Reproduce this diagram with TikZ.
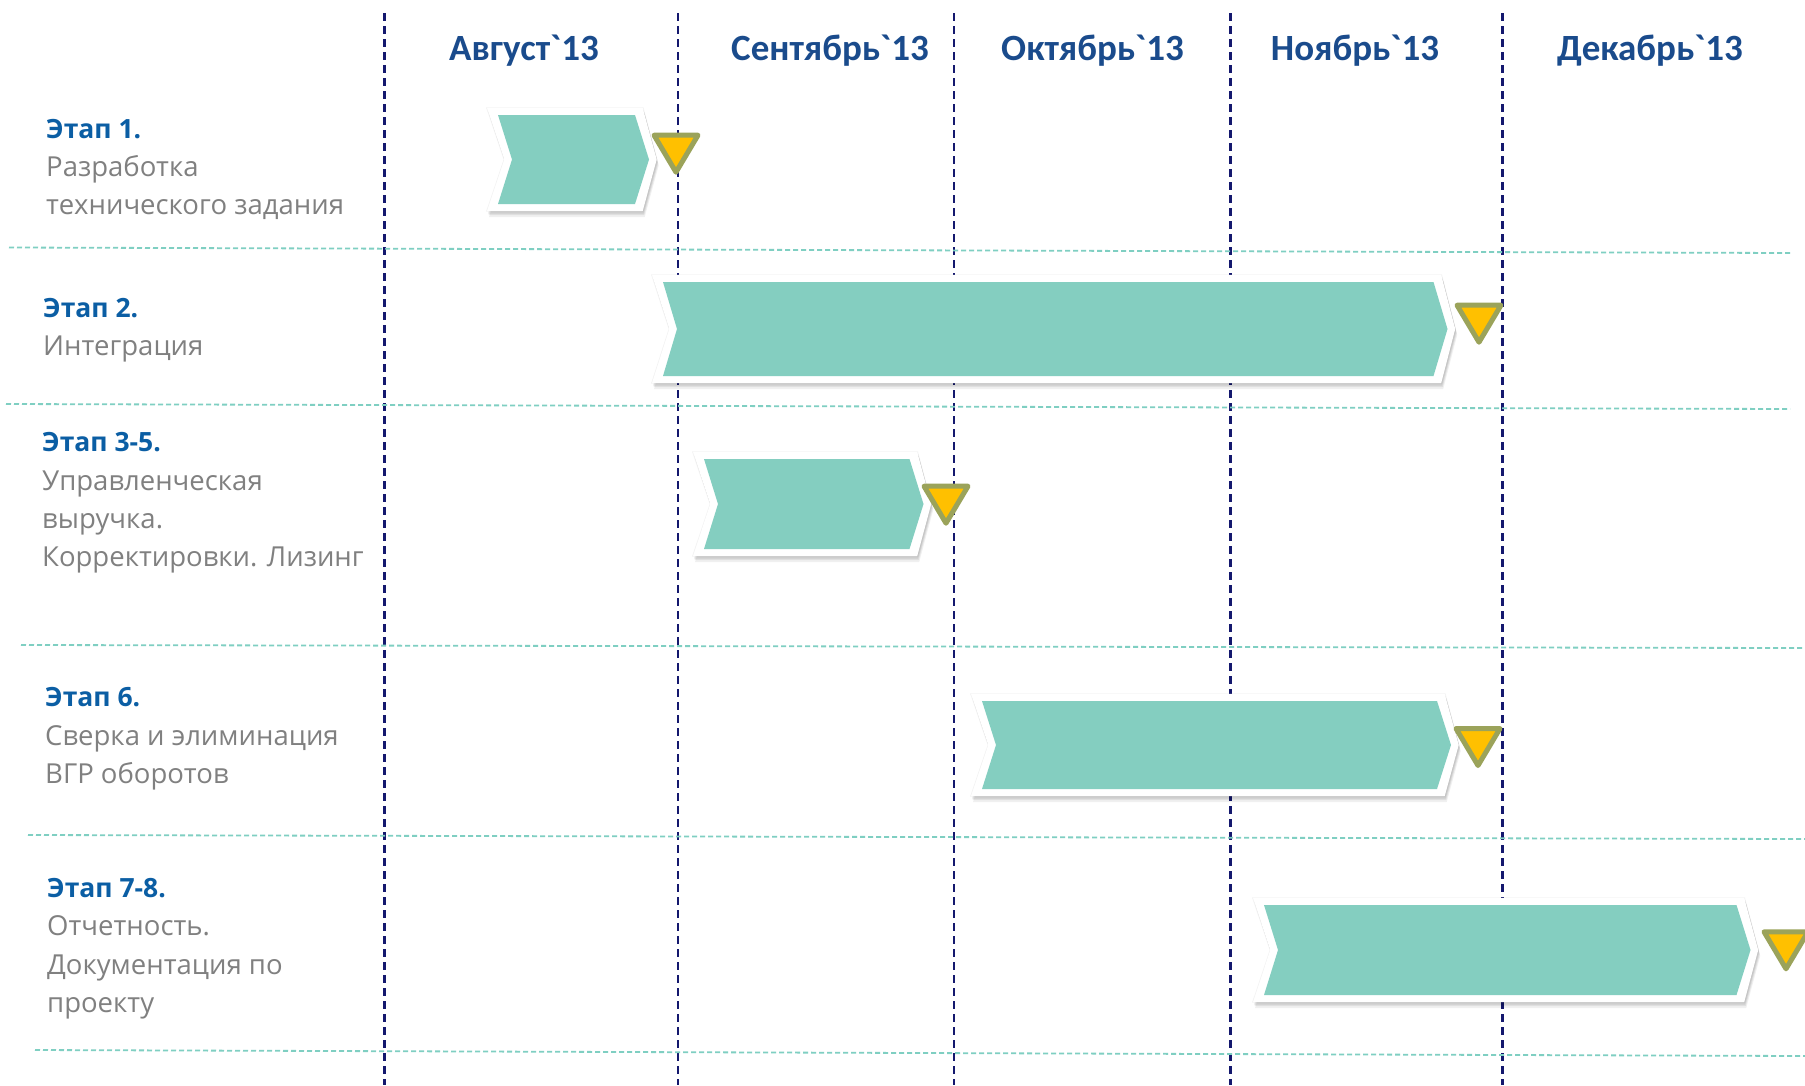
\documentclass[tikz,border=0pt]{standalone}
\usepackage{fontspec}
\setmainfont{Open Sans}
\newfontfamily\calib{Carlito}
\definecolor{teal1}{HTML}{84CEC0}
\definecolor{gold1}{HTML}{FFC000}
\definecolor{olive1}{HTML}{9BA35A}
\definecolor{navy1}{HTML}{14186E}
\definecolor{grid1}{HTML}{7FCFC2}
\definecolor{mon1}{HTML}{1A4B8C}
\definecolor{title1}{HTML}{0B5EA4}
\definecolor{body1}{HTML}{808080}
\newcommand\gr{\symbol{96}}
% chevron path: x0, x1, y0, y1, expansion
\newcommand\chevpath[5]{({#1-#5},{#3-#5*0.64}) -- ({#2+#5*0.7},{#3-#5*0.64}) -- ({#2+14+#5*0.7},{(#3+#4)/2}) -- ({#2+#5*0.7},{#4+#5*0.64}) -- ({#1-#5},{#4+#5*0.64}) -- ({#1+14-#5*0.7},{(#3+#4)/2}) -- cycle}
\newcommand\chev[4]{%
  \fill[black,opacity=0.06,shift={(2,6)}] \chevpath{#1}{#2}{#3}{#4}{11};
  \fill[black,opacity=0.07,shift={(1.5,4)}] \chevpath{#1}{#2}{#3}{#4}{11};
  \fill[black,opacity=0.08,shift={(1,2.5)}] \chevpath{#1}{#2}{#3}{#4}{11};
  \fill[black,opacity=0.05,shift={(0,0)}] \chevpath{#1}{#2}{#3}{#4}{12};
  \fill[white] \chevpath{#1}{#2}{#3}{#4}{11};
  \fill[teal1] \chevpath{#1}{#2}{#3}{#4}{0};}
\newcommand\mile[2]{\filldraw[milestone] ({#1-22},{#2+2.5}) -- ({#1+22},{#2+2.5}) -- (#1,{#2+39.5}) -- cycle;}
\tikzset{
  vline/.style={navy1, line width=2.4pt, dash pattern=on 8pt off 5pt},
  hline/.style={grid1, line width=1.8pt, dash pattern=on 5pt off 3pt},
  month/.style={font=\calib\fontsize{37}{40}\selectfont\bfseries, text=mon1, anchor=base, inner sep=0pt},
  stitle/.style={font=\fontsize{26.5}{32}\selectfont\bfseries, text=title1, anchor=base west, inner sep=0pt},
  sbody/.style={font=\fontsize{27.5}{32}\selectfont, text=body1, anchor=base west, inner sep=0pt},
  milestone/.style={fill=gold1, draw=olive1, line width=5pt, line join=round},
}
\begin{document}
\begin{tikzpicture}[x=1pt,y=-1pt]
\fill[white] (0,0) rectangle (1805,1085);
\useasboundingbox (0,0) rectangle (1805,1085);
% grid lines
\foreach \x in {384.5,678,954,1230.5,1502.5} \draw[vline] (\x,13) -- (\x,1085);
\draw[hline] (9,247.5) -- (1790,253);
\draw[hline] (6,404) -- (1790,409);
\draw[hline] (21,645) -- (1805,648);
\draw[hline] (28,835) -- (1805,839);
\draw[hline] (35,1050) -- (1805,1056);
% months
\node[month] (m1) at (524,60) {Август\gr13};
\node[month] (m2) at (830,60) {Сентябрь\gr13};
\node[month] (m3) at (1092.5,60) {Октябрь\gr13};
\node[month] (m4) at (1355,60) {Ноябрь\gr13};
\node[month] (m5) at (1650,60) {Декабрь\gr13};
% stages
\node[stitle] (s1t) at (46,138) {Этап 1.};
\node[sbody] (s1a) at (46,176) {Разработка};
\node[sbody] (s1b) at (46,214) {технического задания};
\node[stitle] (s2t) at (43,317) {Этап 2.};
\node[sbody] (s2a) at (43,355) {Интеграция};
\node[stitle] (s3t) at (42,451.7) {Этап 3-5.};
\node[sbody] (s3a) at (42,490.5) {Управленческая};
\node[sbody] (s3b) at (42,528) {выручка.};
\node[sbody] (s3c) at (42,566) {Корректировки. Лизинг};
\node[stitle] (s4t) at (45,706.5) {Этап 6.};
\node[sbody] (s4a) at (45,745) {Сверка и элиминация};
\node[sbody] (s4b) at (45,783.5) {ВГР оборотов};
\node[stitle] (s5t) at (47,897.5) {Этап 7-8.};
\node[sbody] (s5a) at (47,935.5) {Отчетность.};
\node[sbody] (s5b) at (47,974) {Документация по};
\node[sbody] (s5c) at (47,1012) {проекту};
% bars
\chev{498}{635}{115}{204}
\chev{663}{1433.5}{282}{376}
\chev{704}{909.5}{459}{549}
\chev{982}{1437}{701}{789}
\chev{1264}{1736.5}{905}{995}
% milestones
\mile{676}{132.7}
\mile{1479}{302.7}
\mile{946}{483.7}
\mile{1478}{726}
\mile{1786}{929.3}
\end{tikzpicture}
\end{document}
